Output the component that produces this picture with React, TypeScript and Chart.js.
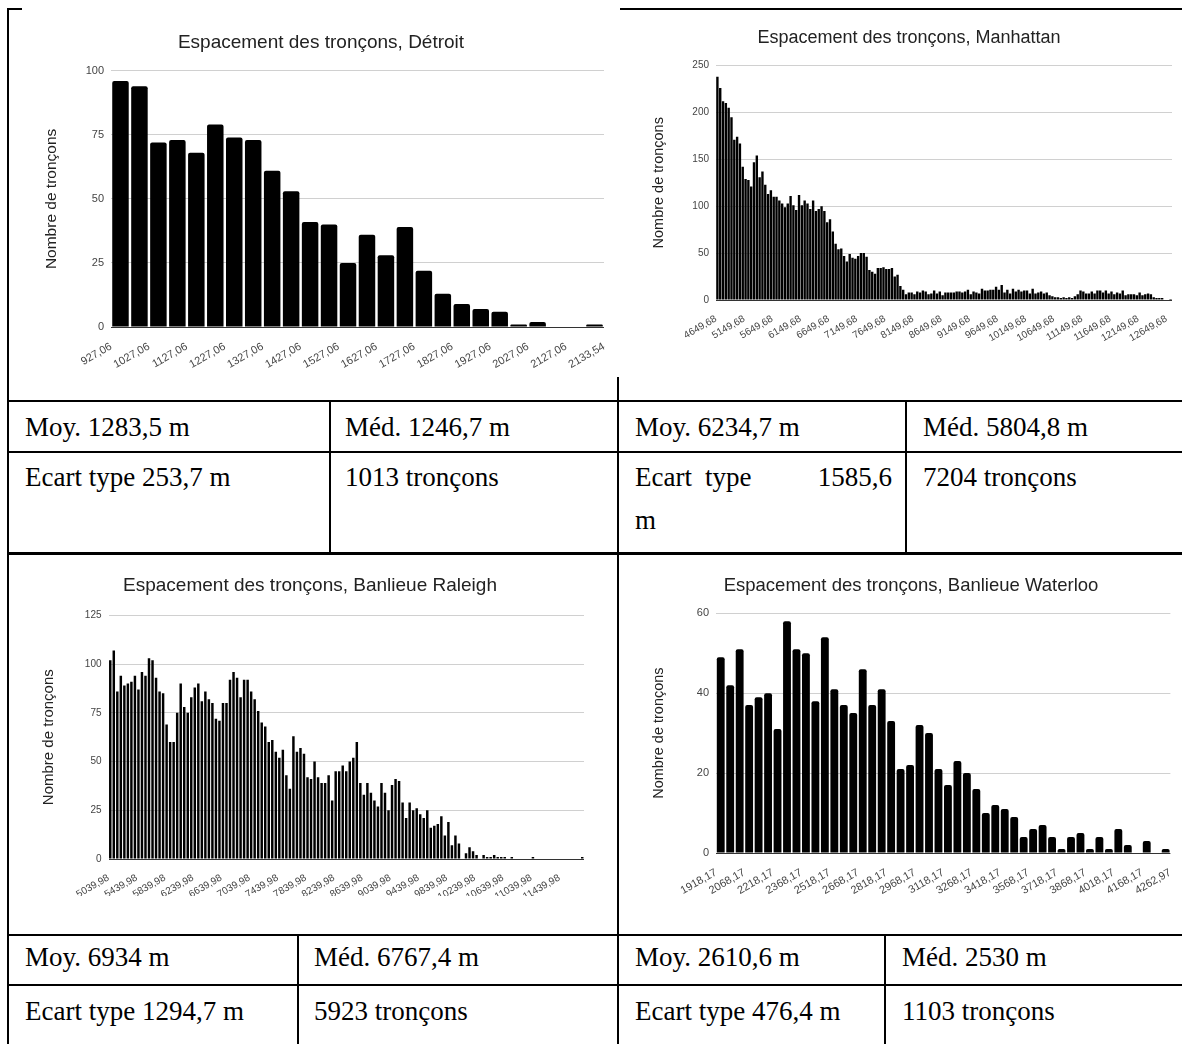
import React, { useEffect, useRef } from "react";
import { Chart, registerables } from "chart.js";

Chart.register(...registerables);

// ---------------- DATA ----------------
const yAxisTitle = "Nombre de tronçons";
const binWidth = 50;

const detroitTitle = "Espacement des tronçons, Détroit";
const detroitCounts = [96, 94, 72, 73, 68, 79, 74, 73, 61, 53, 41, 40, 25, 36, 28, 39, 22, 13, 9, 7, 6, 1, 2, 0, 0, 1];
const detroitTickLabels = ["927,06", "1027,06", "1127,06", "1227,06", "1327,06", "1427,06", "1527,06", "1627,06", "1727,06", "1827,06", "1927,06", "2027,06", "2127,06"];
const detroitEndLabel = "2133,54";
const detroitAxisMax = 2227.06;
const detroitYTicks = [0, 25, 50, 75, 100];

const manhattanTitle = "Espacement des tronçons, Manhattan";
const manhattanCounts = [
  238, 226, 212, 210, 205, 195, 171, 174, 167, 142, 129, 128, 121, 147, 154, 131, 137, 123, 113, 117,
  110, 110, 106, 103, 99, 103, 111, 101, 96, 112, 101, 106, 103, 97, 106, 95, 97, 100, 95, 83,
  86, 73, 60, 54, 55, 47, 41, 49, 45, 44, 47, 50, 50, 46,
  32, 30, 28, 34, 34, 35, 33, 33, 34, 25, 27, 15, 11, 6, 8, 8, 6, 9, 8, 10,
  9, 6, 7, 10, 7, 9, 5, 8, 8, 8, 8, 9, 9, 8, 9, 11, 6, 9, 8, 7,
  12, 10, 10, 11, 11, 14, 11, 16, 8, 11, 7, 12, 9, 11,
  9, 10, 10, 7, 12, 7, 8, 9, 7, 8, 5, 4, 3, 3, 2, 3, 2, 3, 2, 4,
  6, 10, 9, 7, 7, 9, 7, 10, 10, 8, 10, 7, 9, 6, 8, 7, 10, 5, 6, 6,
  6, 5, 8, 5, 6, 7, 6, 3, 2, 2, 2, 0, 0, 1,
];
const manhattanTickLabels = ["4649,68", "5149,68", "5649,68", "6149,68", "6649,68", "7149,68", "7649,68", "8149,68", "8649,68", "9149,68", "9649,68", "10149,68", "10649,68", "11149,68", "11649,68", "12149,68", "12649,68"];
const manhattanAxisMax = 12749.68;
const manhattanYTicks = [0, 50, 100, 150, 200, 250];

const raleighTitle = "Espacement des tronçons, Banlieue Raleigh";
const raleighCounts = [
  102, 107, 86, 94, 89, 90, 91, 94, 87, 96, 94, 103, 102, 93, 86, 85, 69, 60, 60, 75,
  90, 78, 75, 83, 88, 90, 81, 86, 82, 80, 72, 71, 80, 80, 92, 96, 93, 83, 92, 92,
  86, 82, 76, 70, 68, 60,
  61, 55, 52, 56, 43, 36, 63, 55, 57, 54, 42, 41, 50, 42, 39, 39, 43, 30, 45, 45,
  48, 45, 50, 52, 60, 39, 33, 39, 34, 30, 27, 39, 34, 25, 38, 41, 40, 29, 21, 29,
  25, 26, 23, 21, 25, 16, 17,
  18, 22, 12, 19, 7, 12, 8, 0, 3, 6, 4, 2, 0, 2, 1, 1, 2, 1, 1, 1,
  0, 1, 0, 0, 0, 0, 0, 1, 0, 0, 0, 0, 0, 0, 0, 0, 0, 0, 0, 0, 0, 1,
];
const raleighTickLabels = ["5039,98", "5439,98", "5839,98", "6239,98", "6639,98", "7039,98", "7439,98", "7839,98", "8239,98", "8639,98", "9039,98", "9439,98", "9839,98", "10239,98", "10639,98", "11039,98", "11439,98"];
const raleighAxisMax = 11789.98;
const raleighYTicks = [0, 25, 50, 75, 100, 125];

const waterlooTitle = "Espacement des tronçons, Banlieue Waterloo";
const waterlooCounts = [
  49, 42, 51, 37, 39, 40, 31, 58, 51, 50, 38, 54, 41, 37, 35, 46, 37, 41, 33, 21,
  22, 32, 30, 21, 17, 23, 20, 16, 10, 12, 11, 9, 4, 6, 7, 4, 1, 4, 5, 1,
  4, 1, 6, 2, 0, 3, 0, 1,
];
const waterlooTickLabels = ["1918,17", "2068,17", "2218,17", "2368,17", "2518,17", "2668,17", "2818,17", "2968,17", "3118,17", "3268,17", "3418,17", "3568,17", "3718,17", "3868,17", "4018,17", "4168,17"];
const waterlooEndLabel = "4262,97";
const waterlooAxisMax = 4318.17;
const waterlooYTicks = [0, 20, 40, 60];

// table texts
const rowB = ["Moy. 1283,5 m", "Méd. 1246,7 m", "Moy. 6234,7 m", "Méd. 5804,8 m"];
const rowC = ["Ecart type 253,7 m", "1013 tronçons", "Ecart type 1585,6 m", "7204 tronçons"];
const rowE = ["Moy. 6934 m", "Méd. 6767,4 m", "Moy. 2610,6 m", "Méd. 2530 m"];
const rowF = ["Ecart type 1294,7 m", "5923 tronçons", "Ecart type 476,4 m", "1103 tronçons"];

// ---------------- RENDERING ----------------
const SANS = "'Liberation Sans', Arial, sans-serif";
const SERIF = "'Liberation Serif', 'Times New Roman', serif";

const parseNum = (s: string) => parseFloat(s.replace(",", "."));

type Spec = {
  title: string;
  counts: number[];
  ticks: string[];
  endLabel?: string;
  axisMax: number;
  yTicks: number[];
};

type Box = {
  left: number; top: number; width: number; height: number; bg: string;
  padL: number; padR: number; yW: number; xH: number;
  titleSize: number; titleTop: number; titleBottom: number;
  tickSize: number; xTickSize: number; axisTitleSize: number;
  barPct: number; radius: number;
};

function Histogram({ spec, box }: { spec: Spec; box: Box }) {
  const ref = useRef<HTMLCanvasElement | null>(null);
  useEffect(() => {
    if (!ref.current) return;
    const start = parseNum(spec.ticks[0]);
    const data = spec.counts.map((c, i) => ({ x: start + binWidth * (i + 0.5), y: c }));
    const tickValues = spec.ticks.map(parseNum);
    const tickLabels = [...spec.ticks];
    if (spec.endLabel) {
      tickValues.push(spec.axisMax);
      tickLabels.push(spec.endLabel);
    }
    const yMax = spec.yTicks[spec.yTicks.length - 1];
    const chart = new Chart(ref.current, {
      type: "bar",
      data: {
        datasets: [
          {
            data: data as any,
            backgroundColor: "#000",
            borderWidth: 0,
            barPercentage: box.barPct,
            categoryPercentage: 1,
            borderRadius: box.radius,
          },
        ],
      },
      options: {
        responsive: false,
        animation: false,
        events: [],
        layout: { padding: { left: box.padL, right: box.padR, top: 0, bottom: 0 } },
        plugins: {
          legend: { display: false },
          tooltip: { enabled: false },
          title: {
            display: true,
            text: spec.title,
            color: "#222",
            font: { family: SANS, size: box.titleSize, weight: "normal" as any },
            padding: { top: box.titleTop, bottom: box.titleBottom },
          },
        },
        scales: {
          x: {
            type: "linear",
            min: start,
            max: spec.axisMax,
            offset: false,
            grid: { display: false, offset: false },
            border: { display: false },
            afterBuildTicks: (s: any) => {
              s.ticks = tickValues.map((v) => ({ value: v }));
            },
            afterFit: (s: any) => {
              s.height = box.xH;
            },
            ticks: {
              autoSkip: false,
              maxRotation: 30,
              minRotation: 30,
              padding: 5,
              color: "#444",
              font: { family: SANS, size: box.xTickSize },
              callback: (_v: any, i: number) => tickLabels[i],
            },
          },
          y: {
            min: 0,
            max: yMax,
            afterBuildTicks: (s: any) => {
              s.ticks = spec.yTicks.map((v) => ({ value: v }));
            },
            afterFit: (s: any) => {
              s.width = box.yW;
            },
            border: { display: false },
            grid: {
              drawTicks: false,
              color: (ctx: any) => (ctx.tick && ctx.tick.value === 0 ? "#333" : "#d0d0d0"),
              lineWidth: 1,
            },
            ticks: {
              padding: 7,
              color: "#444",
              font: { family: SANS, size: box.tickSize },
            },
            title: {
              display: true,
              text: yAxisTitle,
              color: "#222",
              font: { family: SANS, size: box.axisTitleSize },
              padding: { top: 4, bottom: 4 },
            },
          },
        },
      } as any,
    });
    return () => chart.destroy();
  }, []);
  return (
    <div
      style={{
        position: "absolute",
        left: box.left,
        top: box.top,
        width: box.width,
        height: box.height,
        background: box.bg,
      }}
    >
      <canvas ref={ref} width={box.width} height={box.height} style={{ display: "block" }} />
    </div>
  );
}

const detroitBox: Box = {
  left: 22, top: 0, width: 598, height: 377, bg: "#fff",
  padL: 16, padR: 16, yW: 73, xH: 50,
  titleSize: 19, titleTop: 31, titleBottom: 17,
  tickSize: 11, xTickSize: 11, axisTitleSize: 15.5,
  barPct: 0.87, radius: 2,
};
const manhattanBox: Box = {
  left: 622, top: 12, width: 560, height: 333, bg: "transparent",
  padL: 24, padR: 10, yW: 70, xH: 45,
  titleSize: 18, titleTop: 15, titleBottom: 17,
  tickSize: 10, xTickSize: 10, axisTitleSize: 14.5,
  barPct: 0.85, radius: 0,
};
const raleighBox: Box = {
  left: 10, top: 556, width: 600, height: 340, bg: "transparent",
  padL: 26, padR: 26, yW: 72.5, xH: 37,
  titleSize: 19, titleTop: 18.6, titleBottom: 18,
  tickSize: 10, xTickSize: 10, axisTitleSize: 15,
  barPct: 0.7, radius: 0,
};
const waterlooBox: Box = {
  left: 622, top: 556, width: 560, height: 340, bg: "transparent",
  padL: 24, padR: 6, yW: 70, xH: 43,
  titleSize: 18.5, titleTop: 19, titleBottom: 16,
  tickSize: 11, xTickSize: 11, axisTitleSize: 14.5,
  barPct: 0.83, radius: 2,
};

function HLine({ x1, x2, y, w = 2 }: { x1: number; x2: number; y: number; w?: number }) {
  return <div style={{ position: "absolute", left: x1, top: y, width: x2 - x1, height: w, background: "#000" }} />;
}
function VLine({ x, y1, y2, w = 2 }: { x: number; y1: number; y2: number; w?: number }) {
  return <div style={{ position: "absolute", left: x, top: y1, width: w, height: y2 - y1, background: "#000" }} />;
}
function Txt({ x, cy, children, right }: { x: number; cy: number; children: React.ReactNode; right?: boolean }) {
  return (
    <div
      style={{
        position: "absolute",
        left: right ? undefined : x,
        right: right ? 1182 - x : undefined,
        top: cy - 16,
        height: 32,
        lineHeight: "32px",
        fontFamily: SERIF,
        fontSize: 27,
        color: "#000",
        whiteSpace: "nowrap",
      }}
    >
      {children}
    </div>
  );
}

export default function App() {
  const cRow = rowC[2].split(" ");
  return (
    <div style={{ position: "absolute", left: 0, top: 0, width: 1182, height: 1044, background: "#fff", overflow: "hidden" }}>
      {/* table borders */}
      <HLine x1={7} x2={1182} y={8} />
      <VLine x={7} y1={8} y2={1044} />
      <VLine x={617} y1={8} y2={1044} />
      <HLine x1={7} x2={1182} y={400} />
      <HLine x1={7} x2={1182} y={451} />
      <HLine x1={7} x2={1182} y={552} w={3} />
      <VLine x={329} y1={400} y2={554} />
      <VLine x={905} y1={400} y2={554} />
      <HLine x1={7} x2={1182} y={934} />
      <HLine x1={7} x2={1182} y={984} />
      <VLine x={297} y1={934} y2={1044} />
      <VLine x={884} y1={934} y2={1044} />

      {/* charts */}
      <Histogram spec={{ title: detroitTitle, counts: detroitCounts, ticks: detroitTickLabels, endLabel: detroitEndLabel, axisMax: detroitAxisMax, yTicks: detroitYTicks }} box={detroitBox} />
      <Histogram spec={{ title: manhattanTitle, counts: manhattanCounts, ticks: manhattanTickLabels, axisMax: manhattanAxisMax, yTicks: manhattanYTicks }} box={manhattanBox} />
      <Histogram spec={{ title: raleighTitle, counts: raleighCounts, ticks: raleighTickLabels, axisMax: raleighAxisMax, yTicks: raleighYTicks }} box={raleighBox} />
      <Histogram spec={{ title: waterlooTitle, counts: waterlooCounts, ticks: waterlooTickLabels, endLabel: waterlooEndLabel, axisMax: waterlooAxisMax, yTicks: waterlooYTicks }} box={waterlooBox} />

      {/* texts */}
      <Txt x={25} cy={427}>{rowB[0]}</Txt>
      <Txt x={345} cy={427}>{rowB[1]}</Txt>
      <Txt x={635} cy={427}>{rowB[2]}</Txt>
      <Txt x={923} cy={427}>{rowB[3]}</Txt>

      <Txt x={25} cy={477}>{rowC[0]}</Txt>
      <Txt x={345} cy={477}>{rowC[1]}</Txt>
      <Txt x={635} cy={477}>{cRow[0]}</Txt>
      <Txt x={705} cy={477}>{cRow[1]}</Txt>
      <Txt x={892} cy={477} right>{cRow[2]}</Txt>
      <Txt x={635} cy={520}>{cRow[3]}</Txt>
      <Txt x={923} cy={477}>{rowC[3]}</Txt>

      <Txt x={25} cy={957}>{rowE[0]}</Txt>
      <Txt x={314} cy={957}>{rowE[1]}</Txt>
      <Txt x={635} cy={957}>{rowE[2]}</Txt>
      <Txt x={902} cy={957}>{rowE[3]}</Txt>

      <Txt x={25} cy={1011}>{rowF[0]}</Txt>
      <Txt x={314} cy={1011}>{rowF[1]}</Txt>
      <Txt x={635} cy={1011}>{rowF[2]}</Txt>
      <Txt x={902} cy={1011}>{rowF[3]}</Txt>
    </div>
  );
}
